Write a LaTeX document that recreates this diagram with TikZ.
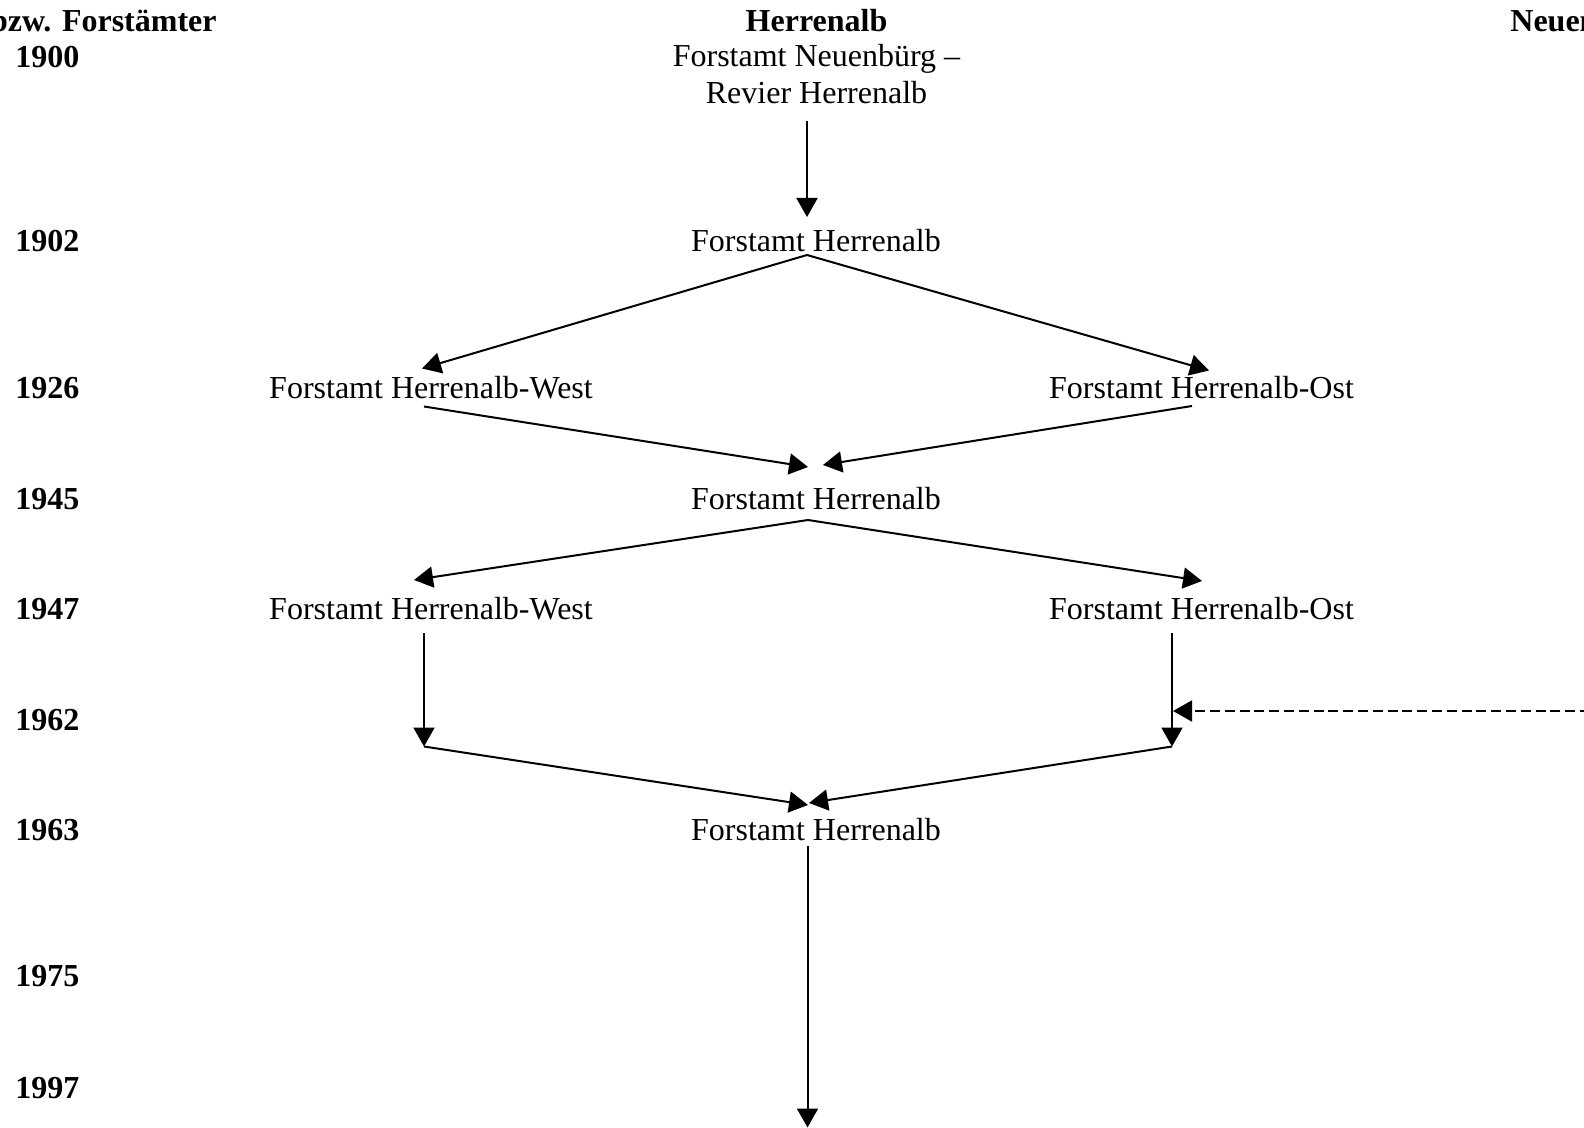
\documentclass[tikz,border=0pt]{standalone}
\usepackage{fontspec}
\setmainfont{Liberation Serif}
\usetikzlibrary{arrows.meta}
\begin{document}
\begin{tikzpicture}[x=0.5pt,y=-0.5pt,
  lbl/.style={anchor=base, inner sep=0pt, font=\fontsize{16}{19}\selectfont},
  yr/.style={anchor=base, inner sep=0pt, font=\fontsize{16}{19}\selectfont\bfseries},
  conn/.style={line width=1pt, -{Triangle[length=9.5pt,width=10.5pt]}},
  plainline/.style={line width=1pt},
  dashconn/.style={line width=1pt, dash pattern=on 5pt off 2.4pt, -{Triangle[length=9.5pt,width=10.5pt]}}
]
\useasboundingbox (0,0) rectangle (1584,1128);
\clip (0,0) rectangle (1584,1128);
\fill[white] (0,0) rectangle (1584,1128);

% headers
\node[yr, anchor=base east] (hdrL) at (217,31.5) {bzw. Forstämter};
\node[yr] (hdrM) at (816.5,31.5) {Herrenalb};
\node[yr, anchor=base west] (hdrR) at (1510,31.5) {Neuenbürg};

% years
\node[yr] (y1900) at (47.5,67.5) {1900};
\node[yr] (y1902) at (47.5,251.7) {1902};
\node[yr] (y1926) at (47.5,398.3) {1926};
\node[yr] (y1945) at (47.5,509.3) {1945};
\node[yr] (y1947) at (47.5,619.3) {1947};
\node[yr] (y1962) at (47.5,730) {1962};
\node[yr] (y1963) at (47.5,840.7) {1963};
\node[yr] (y1975) at (47.5,986.7) {1975};
\node[yr] (y1997) at (47.5,1098.3) {1997};

% nodes
\node[lbl] (n1900a) at (816.5,67) {Forstamt Neuenbürg –};
\node[lbl] (n1900b) at (816.5,104) {Revier Herrenalb};
\node[lbl] (n1902) at (816,251.7) {Forstamt Herrenalb};
\node[lbl] (w1926) at (431,398.3) {Forstamt Herrenalb-West};
\node[lbl] (o1926) at (1201.5,398.3) {Forstamt Herrenalb-Ost};
\node[lbl] (n1945) at (816,509.3) {Forstamt Herrenalb};
\node[lbl] (w1947) at (431,619.3) {Forstamt Herrenalb-West};
\node[lbl] (o1947) at (1201.5,619.3) {Forstamt Herrenalb-Ost};
\node[lbl] (n1963) at (816,840.7) {Forstamt Herrenalb};

% connector points
\coordinate (a0s) at (807,121);
\coordinate (a0e) at (807,217);
\coordinate (b0) at (807,255);
\coordinate (bW) at (422,368.5);
\coordinate (bO) at (1209,370.5);
\coordinate (cWs) at (424,406.5);
\coordinate (cOs) at (1192,406);
\coordinate (cWe) at (808,467);
\coordinate (cOe) at (823,465);
\coordinate (d0) at (808,520);
\coordinate (dW) at (414,580);
\coordinate (dO) at (1202,581);
\coordinate (eWs) at (424,633);
\coordinate (eOs) at (1172,633);
\coordinate (jW) at (424,746.5);
\coordinate (jO) at (1172,746.5);
\coordinate (dashS) at (1590,711);
\coordinate (dashE) at (1173,711);
\coordinate (fWe) at (808,805);
\coordinate (fOe) at (809,803);
\coordinate (g0) at (807.5,845.5);
\coordinate (gE) at (807.5,1127.5);

% connectors
\draw[conn] (a0s) -- (a0e);
\draw[conn] (b0) -- (bW);
\draw[conn] (b0) -- (bO);
\draw[conn] (cWs) -- (cWe);
\draw[conn] (cOs) -- (cOe);
\draw[conn] (d0) -- (dW);
\draw[conn] (d0) -- (dO);
\draw[conn] (eWs) -- (jW);
\draw[conn] (eOs) -- (jO);
\draw[dashconn] (dashS) -- (dashE);
\draw[conn] (jW) -- (fWe);
\draw[conn] (jO) -- (fOe);
\draw[conn] (g0) -- (gE);
\end{tikzpicture}
\end{document}
